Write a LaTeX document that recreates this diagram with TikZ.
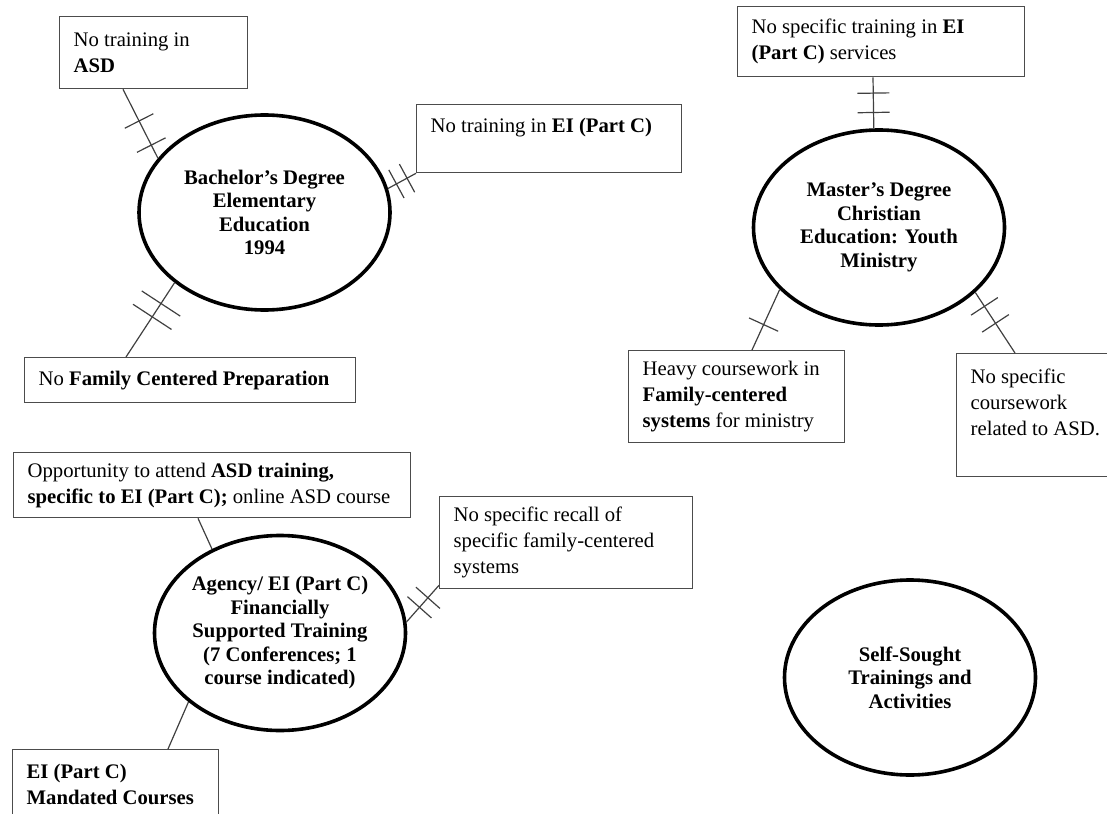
\documentclass[tikz,border=0pt]{standalone}
\usepackage{fontspec}
\setmainfont{Liberation Serif}
\usetikzlibrary{shapes.geometric}
\usetikzlibrary{decorations.markings}

\tikzset{
  topic/.style={ellipse, draw=black, line width=3.6pt, minimum width=251pt, minimum height=195pt,
    inner sep=0pt, align=center, font={\fontsize{20.7}{23.5}\selectfont\bfseries}},
  note/.style={draw=black!70, line width=1.3pt, anchor=north west, align=flush left,
    inner xsep=14pt, inner ysep=0pt, font={\fontsize{20.7}{26}\selectfont}},
  link/.style={draw=black!75, line width=1.2pt},
  hatch/.style={postaction={decorate, decoration={markings,
    mark=at position #1 with {\draw[black!75, line width=1.2pt] (0pt,-16pt) -- (0pt,16pt);}}}},
  longhatch/.style={postaction={decorate, decoration={markings,
    mark=at position #1 with {\draw[black!75, line width=1.2pt] (0pt,-23pt) -- (0pt,23pt);}}}}
}

\begin{document}
\begin{tikzpicture}[x=1pt,y=-1pt]
\useasboundingbox (0,0) rectangle (1107,813);

\node[topic] (e1) at (264.5,212.5) {Bachelor’s Degree\\Elementary\\Education\\1994};
\node[topic] (e2) at (879,227.5) {Master’s Degree\\Christian\\Education: Youth\\Ministry};
\node[topic] (e3) at (280,633) {Agency/ EI (Part C)\\Financially\\Supported Training\\(7 Conferences; 1\\course indicated)};
\node[topic] (e4) at (910,677.5) {Self-Sought\\Trainings and\\Activities};

\node[note, text width=160pt, minimum height=72pt] (b1) at (59,16) {No training in\\\textbf{ASD}};
\node[note, text width=237pt, minimum height=68pt] (b2) at (416,104) {No training in \textbf{EI (Part C)}\\\mbox{}};
\node[note, text width=303pt, minimum height=45pt] (b3) at (24,357) {No \textbf{Family Centered Preparation}};
\node[note, text width=259pt, minimum height=70pt] (b4) at (737,6) {No specific training in \textbf{EI}\\\textbf{(Part C)} services};
\node[note, text width=188pt, minimum height=92pt] (b5) at (628,350) {Heavy coursework in\\\textbf{Family-centered}\\\textbf{systems} for ministry};
\node[note, text width=152pt, minimum height=123pt] (b6) at (956,353) {No specific\\coursework\\related to ASD.\\\mbox{}};
\node[note, text width=369pt, minimum height=65pt] (b7) at (13,452) {Opportunity to attend \textbf{ASD training,}\\\mbox{\textbf{specific to EI (Part C);} online ASD course}};
\node[note, text width=225pt, minimum height=92pt] (b8) at (439,496) {No specific recall of\\specific family-centered\\systems};
\node[note, text width=178pt, minimum height=70pt] (b9) at (12,749) {\textbf{EI (Part C)}\\\textbf{Mandated Courses}};

\draw[link, hatch=0.46, hatch=0.81] ([xshift=64pt]b1.south west) -- (e1.153);
\draw[link, hatch=0.3, hatch=0.68] (e1.11) -- (b2.south west);
\draw[link, longhatch=0.28, longhatch=0.46] (e1.218) -- ([xshift=102pt]b3.north west);
\draw[link, hatch=0.31, hatch=0.69] ([xshift=136pt]b4.south west) -- (e2.93);
\draw[link, hatch=0.58] (e2.212) -- ([xshift=124pt]b5.north west);
\draw[link, hatch=0.23, hatch=0.51] (e2.326) -- ([xshift=59pt]b6.north west);
\draw[link] ([xshift=185pt]b7.south west) -- (e3.129);
\draw[link, hatch=0.4, hatch=0.66] (e3.5) -- ([yshift=4pt]b8.south west);
\draw[link] (e3.217) -- ([xshift=156pt]b9.north west);
\end{tikzpicture}
\end{document}
